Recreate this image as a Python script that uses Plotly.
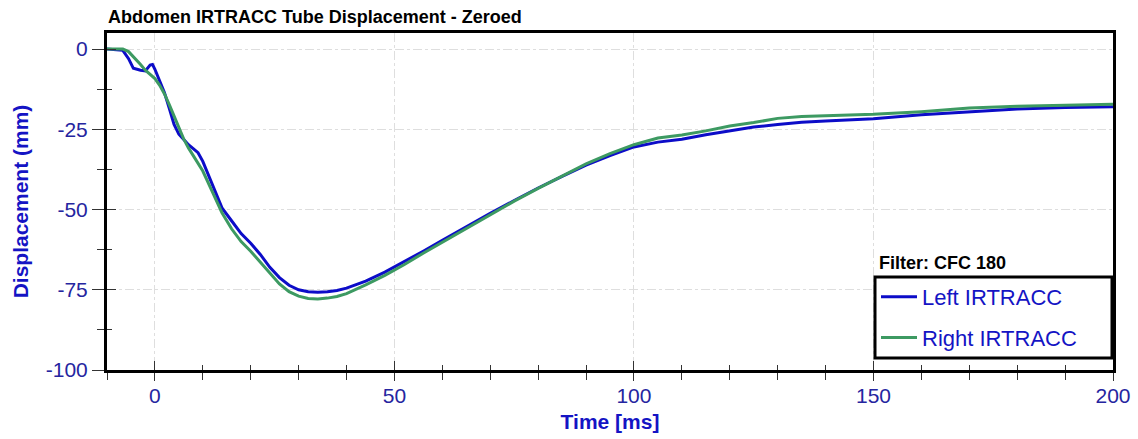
import plotly.graph_objects as go

# ---- data ----
time_ms = [-10, -6.7, -5.5, -4.5, -3, -2, -1, -0.5, 0, 1, 2, 3, 4, 5, 6, 7, 8, 9, 10,
           12, 14, 16, 18, 20, 22, 24, 26, 28, 30, 32, 34, 36, 38, 40, 44, 48, 52, 56,
           60, 65, 70, 75, 80, 85, 90, 95, 100, 105, 110, 115, 120, 125, 130, 135, 140,
           150, 160, 170, 180, 190, 200]

left_irtracc = [0, -0.4, -3, -6.0, -6.6, -6.8, -5.0, -4.8, -6.3, -10, -13.6, -18.5, -23.5,
                -26.5, -28.3, -29.8, -31, -32.3, -35, -42, -49.5, -53.5, -57.5, -60.5, -64,
                -68, -71.2, -73.6, -75, -75.6, -75.8, -75.6, -75.2, -74.5, -72.3, -69.5,
                -66.3, -63, -59.6, -55.3, -51.2, -47.2, -43.3, -39.7, -36.2, -33.2, -30.5,
                -29, -28.1, -26.7, -25.4, -24.3, -23.5, -22.8, -22.4, -21.7, -20.5, -19.5,
                -18.7, -18.2, -18.0]

right_irtracc = [0, 0, -0.8, -2.3, -4.8, -6.6, -8, -8.6, -9.2, -11.3, -14, -17.3, -21,
                 -24.8, -28, -30.8, -33.2, -35.3, -38, -44.5, -51, -56, -60, -63, -66.5,
                 -70, -73.2, -75.6, -77, -77.7, -77.9, -77.6, -77.1, -76.2, -73.5, -70.5,
                 -67.2, -63.6, -60.2, -55.8, -51.5, -47.4, -43.4, -39.6, -35.8, -32.6, -29.8,
                 -27.7, -26.8, -25.5, -24, -22.9, -21.6, -21.0, -20.8, -20.3, -19.5, -18.4,
                 -17.8, -17.4, -17.2]

x_range = [-10, 200]
y_range = [-100, 5]
x_tickvals = [0, 50, 100, 150, 200]
x_ticktext = ["0", "50", "100", "150", "200"]
x_minorvals = [-10, 10, 20, 30, 40, 60, 70, 80, 90, 110, 120, 130, 140, 160, 170, 180, 190]
y_tickvals = [0, -25, -50, -75, -100]
y_ticktext = ["0", "-25", "-50", "-75", "-100"]
y_minorvals = [-12.5, -37.5, -62.5, -87.5]

series_names = ["Left IRTRACC", "Right IRTRACC"]
title_text = "Abdomen IRTRACC Tube Displacement - Zeroed"
legend_title = "Filter: CFC 180"

# ---- styles ----
FONT = "Liberation Sans, Arial, sans-serif"
BLUE_LINE = "#0c0cc8"
GREEN_LINE = "#3d9a62"
TICK_BLUE = "#2525a0"
TITLE_BLUE = "#1414c4"
GRID = "#dedede"
TICKC = "#333333"

W, H = 1138, 439
L, R, T, B = 107, 25, 33, 69
PW, PH = W - L - R, H - T - B


def px_x(p):
    return (p - L) / PW


def px_y(p):
    return (H - B - p) / PH


fig = go.Figure()
fig.add_trace(go.Scatter(x=time_ms, y=left_irtracc, mode="lines", name=series_names[0],
                         line=dict(color=BLUE_LINE, width=3), legendgroup="a"))
fig.add_trace(go.Scatter(x=time_ms, y=right_irtracc, mode="lines", name=series_names[1],
                         line=dict(color=GREEN_LINE, width=3), legendgroup="b"))
# invisible carrier so the overlay axes (inner halves of tick marks) get drawn
fig.add_trace(go.Scatter(x=time_ms, y=left_irtracc, xaxis="x2", yaxis="y2", mode="lines",
                         line=dict(width=0, color="rgba(0,0,0,0)"), opacity=0,
                         showlegend=False, hoverinfo="skip"))

fig.update_layout(
    width=W, height=H,
    margin=dict(l=L, r=R, t=T, b=B, autoexpand=False),
    paper_bgcolor="white", plot_bgcolor="white",
    font=dict(family=FONT),
    title=dict(text=title_text, x=108 / W, xanchor="left", xref="container",
               y=1 - 17 / H, yanchor="middle", yref="container",
               font=dict(size=18, color="black", weight="bold", family=FONT)),
    showlegend=True,
    legend=dict(x=px_x(876), xanchor="left", y=px_y(276), yanchor="top",
                bgcolor="rgba(0,0,0,0)", borderwidth=0,
                font=dict(size=22, color=TITLE_BLUE, family=FONT),
                tracegroupgap=9, itemwidth=36),
    shapes=[dict(type="rect", xref="paper", yref="paper",
                 x0=px_x(875), x1=px_x(1112), y0=px_y(358), y1=px_y(277),
                 fillcolor="white", line=dict(color="black", width=3), layer="above")],
    annotations=[dict(text=legend_title, xref="paper", yref="paper",
                      x=px_x(877), xanchor="left",
                      y=px_y(263), yanchor="middle", showarrow=False,
                      font=dict(size=18, color="black", weight="bold", family=FONT))],
    xaxis=dict(
        range=x_range, tickmode="array", tickvals=x_tickvals, ticktext=x_ticktext,
        ticks="outside", ticklen=8, tickcolor=TICKC, tickwidth=1,
        minor=dict(tickmode="array", tickvals=x_minorvals, ticks="outside", ticklen=7,
                   tickcolor=TICKC, showgrid=False),
        showline=True, linecolor="black", linewidth=3, mirror=True,
        showgrid=True, gridcolor=GRID, griddash="dashdot", gridwidth=1,
        zeroline=False, automargin=False, ticklabelstandoff=-3,
        tickfont=dict(size=21, color=TICK_BLUE, family=FONT),
        title=dict(text="Time [ms]", standoff=9,
                   font=dict(size=21, color=TITLE_BLUE, weight="bold", family=FONT)),
    ),
    yaxis=dict(
        range=y_range, tickmode="array", tickvals=y_tickvals, ticktext=y_ticktext,
        ticks="outside", ticklen=12, tickcolor=TICKC, tickwidth=1,
        minor=dict(tickmode="array", tickvals=y_minorvals, ticks="outside", ticklen=7,
                   tickcolor=TICKC, showgrid=False),
        showline=True, linecolor="black", linewidth=3, mirror=True,
        showgrid=True, gridcolor=GRID, griddash="dashdot", gridwidth=1,
        zeroline=False, automargin=False,
        tickfont=dict(size=21, color=TICK_BLUE, family=FONT),
        title=dict(text="Displacement (mm)", standoff=12,
                   font=dict(size=21, color=TITLE_BLUE, weight="bold", family=FONT)),
    ),
    # overlay axes that draw the inner half of the crossing tick marks
    xaxis2=dict(overlaying="x", anchor="y2", side="bottom", range=x_range,
                tickmode="array", tickvals=x_tickvals, ticks="inside", ticklen=9,
                tickcolor=TICKC, showticklabels=False, showgrid=False, zeroline=False,
                showline=False, automargin=False,
                minor=dict(tickmode="array", tickvals=x_minorvals, ticks="inside",
                           ticklen=5, tickcolor=TICKC, showgrid=False)),
    yaxis2=dict(overlaying="y", anchor="x2", side="left", range=y_range,
                tickmode="array", tickvals=y_tickvals, ticks="inside", ticklen=9,
                tickcolor=TICKC, showticklabels=False, showgrid=False, zeroline=False,
                showline=False, automargin=False,
                minor=dict(tickmode="array", tickvals=y_minorvals, ticks="inside",
                           ticklen=5, tickcolor=TICKC, showgrid=False)),
)

fig.write_html("out.html", config={"displayModeBar": False},
               post_script="document.body.style.margin='0px';document.body.style.padding='0px';")
